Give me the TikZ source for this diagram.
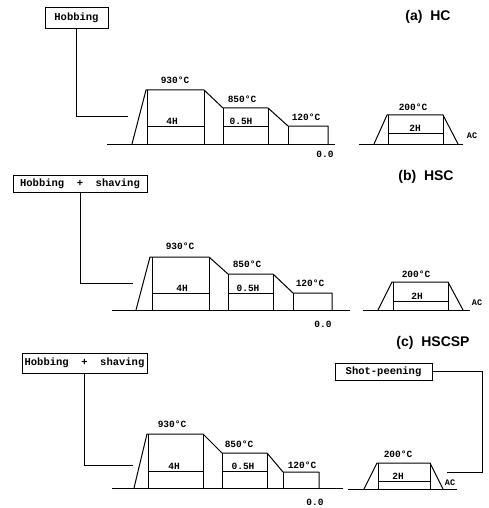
\documentclass[tikz,border=0pt]{standalone}
\usepackage{fontspec}
\setmainfont{Liberation Sans}
\newfontfamily\dotfont{Liberation Mono}
\usetikzlibrary{positioning}
\tikzset{
    curve/.style={line width=1pt,line join=round},
    axis/.style={line width=1pt},
    link/.style={line width=0.9pt},
    opbox/.style={draw,line width=0.9pt,inner sep=0pt,font=\dotfont\bfseries\fontsize{10.5}{11}\selectfont},
    tlabel/.style={inner sep=0pt,font=\dotfont\bfseries\fontsize{9.5}{10}\selectfont},
    aclabel/.style={inner sep=0pt,font=\dotfont\bfseries\fontsize{8.5}{9}\selectfont},
    caption/.style={inner sep=0pt,font=\bfseries\fontsize{14}{16}\selectfont},
}

\begin{document}
\begin{tikzpicture}[x=1pt,y=-1pt]
    \useasboundingbox (0,0) rectangle (488,508);

    % (a) HC
    \node[caption] (capa) at (428,17) {(a)~~HC};
    \node[opbox,minimum width=63pt,minimum height=21pt] (hoba) at (76.5,17.5) {Hobbing};
    \coordinate (hobaend) at (128,116);
    \draw[link] (hoba.south) |- (hobaend);

    \draw[axis] (107,144) -- (335,144);
    \draw[curve] (132,144) -- (146,90) -- (204,90) -- (223,108) -- (268,108) -- (288,126) -- (328,126) -- (328,144);
    \draw[curve] (147,90) -- (147,144) (204,90) -- (204,144) (223,108) -- (223,144)
                 (268,108) -- (268,144) (288,126) -- (288,144);
    \draw[curve] (147,126) -- (204,126) (223,126) -- (268,126);
    \node[tlabel] (ta1) at (175,80) {930°C};
    \node[tlabel] (ta2) at (242,99) {850°C};
    \node[tlabel] (ta3) at (306,117) {120°C};
    \node[tlabel] (ta4) at (325,154) {0.0};
    \node[tlabel] (ha1) at (172,121) {4H};
    \node[tlabel] (ha2) at (241,121) {0.5H};

    \draw[axis] (359,144) -- (463,144);
    \draw[curve] (374,144) -- (387,115) -- (443,115) -- (458,144);
    \draw[curve] (388,115) -- (388,144) (443,115) -- (443,144) (388,133) -- (443,133);
    \node[tlabel] (ta5) at (413,107) {200°C};
    \node[tlabel] (ha3) at (415,128) {2H};
    \node[aclabel] (aca) at (472,136) {AC};

    % (b) HSC
    \node[caption] (capb) at (426,177) {(b)~~HSC};
    \node[opbox,minimum width=134pt,minimum height=17pt] (hobb) at (80,183.5) {Hobbing~~+~~shaving};
    \coordinate (hobbend) at (133,283);
    \draw[link] (hobb.south) |- (hobbend);

    \draw[axis] (112,310) -- (350,310);
    \draw[curve] (136,310) -- (150,257) -- (209,257) -- (228,274) -- (273,274) -- (293,293) -- (332,293) -- (332,310);
    \draw[curve] (152,257) -- (152,310) (209,257) -- (209,310) (228,274) -- (228,310)
                 (273,274) -- (273,310) (293,293) -- (293,310);
    \draw[curve] (152,293) -- (209,293) (228,293) -- (273,293);
    \node[tlabel] (tb1) at (180,246) {930°C};
    \node[tlabel] (tb2) at (247,264) {850°C};
    \node[tlabel] (tb3) at (310,283) {120°C};
    \node[tlabel] (tb4) at (323,324) {0.0};
    \node[tlabel] (hb1) at (182,288) {4H};
    \node[tlabel] (hb2) at (248,288) {0.5H};

    \draw[axis] (363,310) -- (470,310);
    \draw[curve] (378,310) -- (392,282) -- (448,282) -- (463,310);
    \draw[curve] (393,282) -- (393,310) (448,282) -- (448,310) (393,301) -- (448,301);
    \node[tlabel] (tb5) at (416,274) {200°C};
    \node[tlabel] (hb3) at (417,296) {2H};
    \node[aclabel] (acb) at (477,303) {AC};

    % (c) HSCSP
    \node[caption] (capc) at (433,343) {(c)~~HSCSP};
    \node[opbox,minimum width=125pt,minimum height=20pt] (hobc) at (84.5,363) {Hobbing~~+~~shaving};
    \coordinate (hobcend) at (133,465);
    \draw[link] (hobc.south) |- (hobcend);
    \node[opbox,minimum width=97pt,minimum height=17pt] (peen) at (383.5,371.5) {Shot-peening};
    \coordinate (peenbend) at (482,472);
    \coordinate (peenend) at (447,472);
    \draw[link] (peen.east) -| (peenbend) -- (peenend);

    \draw[axis] (112,488) -- (343,488);
    \draw[curve] (134,488) -- (147,434) -- (203,434) -- (222,453) -- (267,453) -- (283,472) -- (319,472) -- (319,488);
    \draw[curve] (148,434) -- (148,488) (203,434) -- (203,488) (222,453) -- (222,488)
                 (267,453) -- (267,488) (283,472) -- (283,488);
    \draw[curve] (148,471) -- (203,471) (222,471) -- (267,471);
    \node[tlabel] (tc1) at (172,424) {930°C};
    \node[tlabel] (tc2) at (239,444) {850°C};
    \node[tlabel] (tc3) at (302,465) {120°C};
    \node[tlabel] (tc4) at (315,502) {0.0};
    \node[tlabel] (hc1) at (174,466) {4H};
    \node[tlabel] (hc2) at (243,466) {0.5H};

    \draw[axis] (348,489) -- (457,489);
    \draw[curve] (364,489) -- (377,463) -- (430,463) -- (443,489);
    \draw[curve] (378,463) -- (378,489) (430,463) -- (430,489) (378,481) -- (430,481);
    \node[tlabel] (tc5) at (398,454) {200°C};
    \node[tlabel] (hc3) at (398,476) {2H};
    \node[aclabel] (acc) at (450,483) {AC};
\end{tikzpicture}
\end{document}
